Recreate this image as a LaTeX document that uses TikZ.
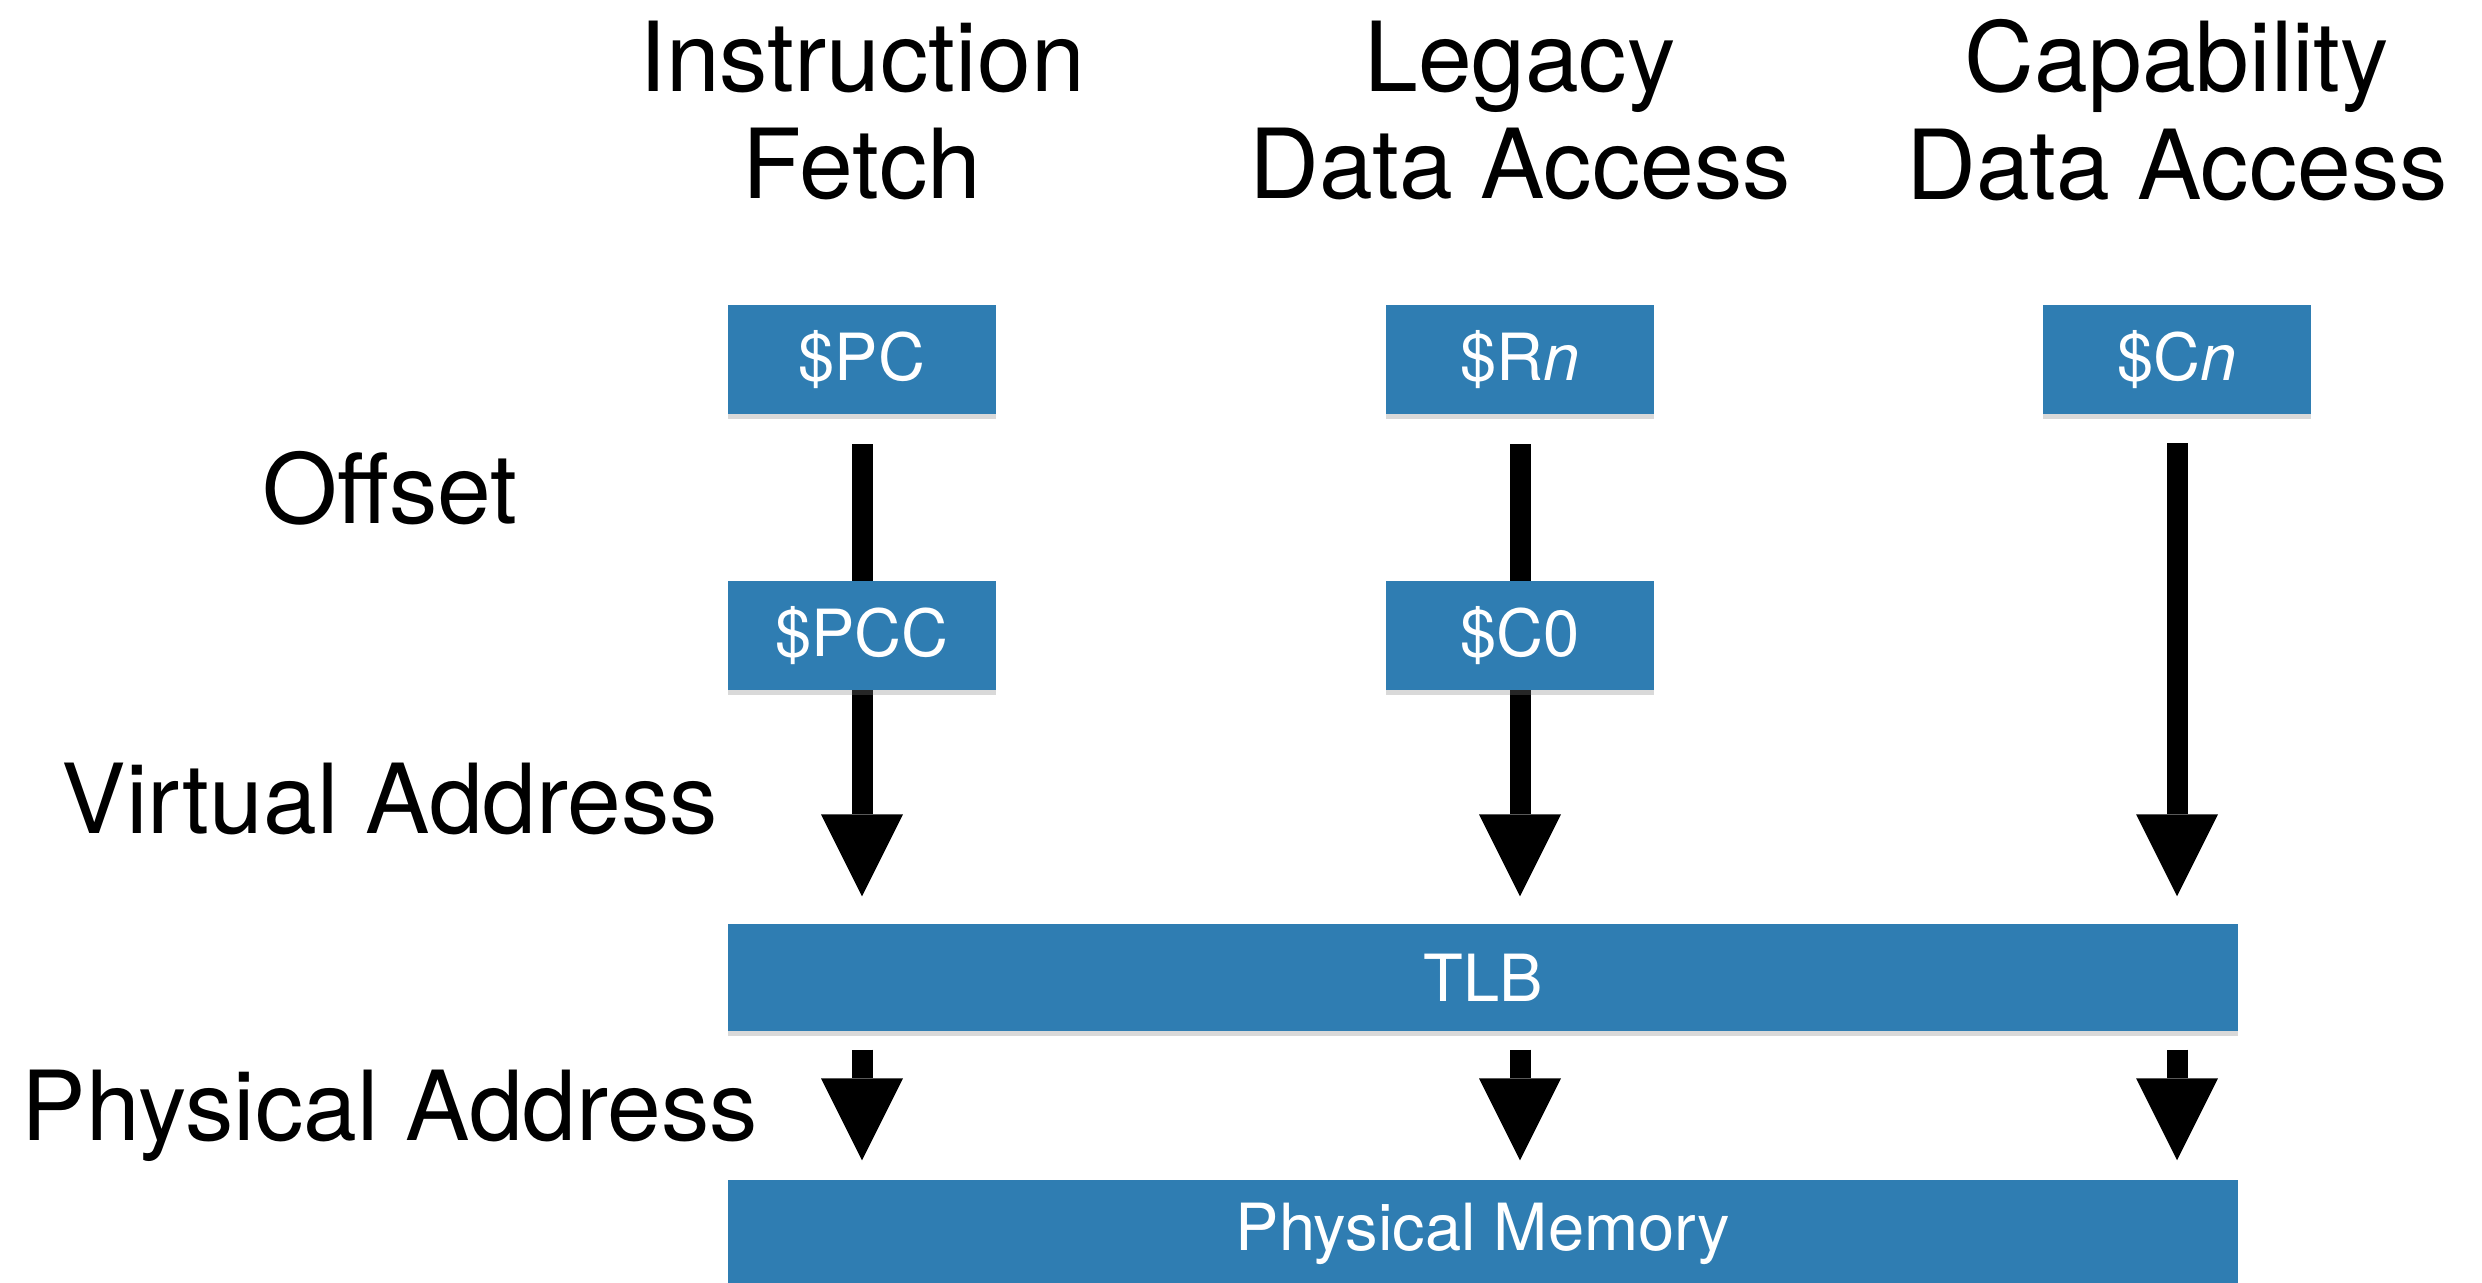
\documentclass[tikz,border=0pt]{standalone}
\usepackage{fontspec}
\setmainfont{TeX Gyre Heros}
\usetikzlibrary{arrows.meta,shadows}
\definecolor{regblue}{RGB}{47,125,178}

\begin{document}
\begin{tikzpicture}[
    regbox/.style={rectangle, fill=regblue, text=white, minimum width=2.68cm, minimum height=1.09cm,
        font=\fontsize{18.5}{22}\selectfont,
        drop shadow={shadow xshift=0pt, shadow yshift=-0.05cm, opacity=0.3}},
    widebox/.style={regbox, minimum width=15.1cm, minimum height=1.07cm},
    heading/.style={align=center, font=\fontsize{27.5}{30.7}\selectfont},
    sidelabel/.style={anchor=base, font=\fontsize{27.5}{33}\selectfont},
    bigarrow/.style={-{Triangle[width=0.82cm, length=0.82cm, line width=0pt 0]}, line width=0.21cm},
]
    \useasboundingbox (0,0) rectangle (24.82,-12.83);

    % Column headings
    \node[heading] (ifetch) at (8.62,-1.105) {Instruction\\Fetch};
    \node[heading] (legacy) at (15.20,-1.105) {Legacy\\Data Access};
    \node[heading] (capdata) at (21.77,-1.105) {Capability\\Data Access};

    % Side labels
    \node[sidelabel] (offset) at (3.90,-5.24) {Offset};
    \node[sidelabel] (vaddr) at (3.90,-8.34) {Virtual Address};
    \node[sidelabel] (paddr) at (3.90,-11.41) {Physical Address};

    % Registers
    \node[regbox] (pc) at (8.62,-3.60) {\$PC};
    \node[regbox] (rn) at (15.20,-3.60) {\$R\textit{n}};
    \node[regbox] (cn) at (21.77,-3.60) {\$C\textit{n}};

    % TLB and memory
    \node[widebox] (tlb) at (14.83,-9.775) {TLB};
    \node[widebox] (mem) at (14.83,-12.335) {Physical Memory};

    % Offset to virtual address
    \draw[bigarrow, shorten <=0.29cm, shorten >=0.27cm] (pc.south) -- (pc.south |- tlb.north);
    \draw[bigarrow, shorten <=0.29cm, shorten >=0.27cm] (rn.south) -- (rn.south |- tlb.north);
    \draw[bigarrow, shorten <=0.28cm, shorten >=0.27cm] (cn.south) -- (cn.south |- tlb.north);

    % Base capabilities on top of the shafts
    \node[regbox] (pcc) at (8.62,-6.355) {\$PCC};
    \node[regbox] (czero) at (15.20,-6.355) {\$C0};

    % Virtual to physical address
    \foreach \col in {pc,rn,cn}
        \draw[bigarrow, shorten <=0.18cm, shorten >=0.19cm] (tlb.south -| \col) -- (mem.north -| \col);

\end{tikzpicture}
\end{document}
